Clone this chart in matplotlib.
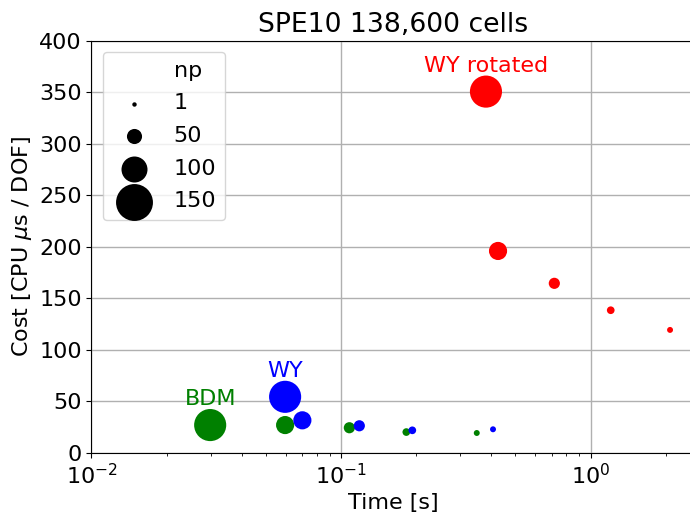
import matplotlib
matplotlib.use("Agg")
import matplotlib.pyplot as plt
import numpy as np

# number of processes for each run
procs = [128, 64, 32, 16, 8]

# BDM
bdm_time = [0.0299, 0.0597, 0.108, 0.1827, 0.35]
bdm_cost = [27.1, 27.1, 24.5, 20.3, 19.4]

# WY
wy_time = [0.0597, 0.070, 0.1184, 0.1931, 0.4066]
wy_cost = [54.5, 31.7, 26.4, 22.0, 23.0]

# WY rotated
wyr_time = [0.381, 0.4259, 0.716, 1.205, 2.083]
wyr_cost = [350.6, 196.0, 164.6, 138.5, 119.4]

legend_np = [1, 50, 100, 150]


def marker_area(n):
    """Marker area in points^2, diameter grows linearly with np."""
    d = (4.2 + 0.218 * np.asarray(n, dtype=float)) * 0.72
    return d ** 2


plt.rcParams['font.size'] = 16
fig = plt.figure(figsize=(6.9, 5.15), dpi=100)
# axes runs a little past the right edge of the picture (cropped original)
ax = fig.add_axes([0.1326, 0.1204, 0.8739, 0.8006])

series = [
    ("BDM", bdm_time, bdm_cost, "green"),
    ("WY", wy_time, wy_cost, "blue"),
    ("WY rotated", wyr_time, wyr_cost, "red"),
]
for name, t, c, col in series:
    ax.scatter(t, c, s=marker_area(procs), color=col, zorder=3, linewidths=0)
    # label above the largest run
    ax.annotate(name, (t[0], c[0]), xytext=(0, 14.4), textcoords="offset points",
                ha="center", va="baseline", color=col)

ax.set_xscale("log")
ax.set_xlim(1e-2, 2.61)
ax.set_ylim(0, 400)
ax.grid(True, which="major", color="#b0b0b0", linewidth=1.0)
ax.set_axisbelow(True)
ax.set_xlabel("Time [s]")
ax.set_ylabel(r"Cost [CPU $\mu$s / DOF]")
ax.set_title("SPE10 138,600 cells", fontsize="large")

# size legend: first row is just the "np" header
handles = [plt.Line2D([], [], linestyle="none", marker="")]
labels = ["np"]
for n in legend_np:
    handles.append(ax.scatter([], [], s=marker_area(n), color="black", linewidths=0))
    labels.append(str(n))
ax.legend(handles, labels, loc="upper left", labelspacing=0.57)

plt.savefig("out.png", dpi=100)
